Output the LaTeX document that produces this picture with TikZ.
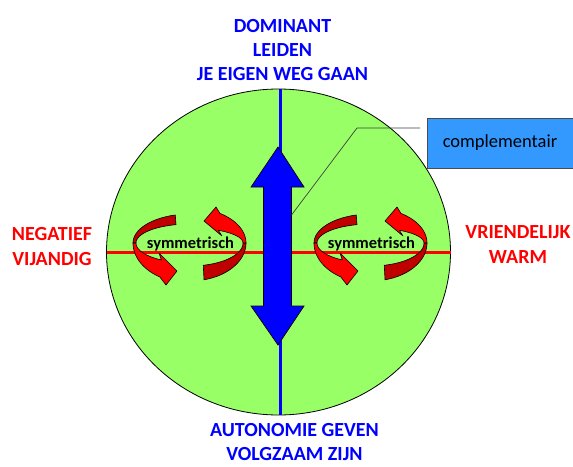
\documentclass[tikz,border=0pt]{standalone}
\usepackage{fontspec}
\setmainfont{Carlito}
\definecolor{cgreen}{RGB}{153,255,102}
\definecolor{cblue}{RGB}{0,0,255}
\definecolor{cred}{RGB}{255,0,0}
\definecolor{cdark}{RGB}{192,0,0}
\definecolor{cbox}{RGB}{51,153,255}
\tikzset{
  bigtext/.style={font=\fontsize{20}{24}\selectfont\bfseries, align=center, inner sep=0pt, anchor=north},
  bluetext/.style={bigtext, text=cblue},
  redtext/.style={bigtext, text=cred, font=\fontsize{20}{25}\selectfont\bfseries},
  symtext/.style={font=\fontsize{16.5}{18}\selectfont\bfseries, inner sep=0pt, anchor=base},
  ribbon/.style={draw=black, line width=0.6pt, line join=round},
  callbox/.style={draw=black!70, fill=cbox, minimum width=146pt, minimum height=50pt, inner sep=0pt, font=\fontsize{18.5}{20}\selectfont},
}
\begin{document}
\begin{tikzpicture}[x=1pt,y=-1pt]
\useasboundingbox (0,0) rectangle (573,466);
\fill[white] (0,0) rectangle (573,466);
% main ellipse
\draw[fill=cgreen, line width=0.8pt] (278.5,252) ellipse [x radius=172pt, y radius=163pt];
% axes
\draw[cred, line width=3pt] (106.5,252) -- (450.5,252);
\draw[cblue, line width=3pt] (280,89) -- (280,415);
% blue double arrow
\draw[fill=cblue, draw=black, line width=0.7pt, line join=miter]
  (278,147) -- (304,187) -- (291.5,187) -- (291.5,306) -- (304,306) -- (278,345)
  -- (251,306) -- (263.5,306) -- (263.5,187) -- (251,187) -- cycle;
% callout
\node[callbox] (box) at (500,143) {complementair};
\coordinate (lend) at (420,128);
\coordinate (bend) at (357,128);
\coordinate (cpt) at (291.5,215);
\draw[black!75, line width=0.7pt] (lend) -- (bend) -- (cpt);
% circular arrows
\foreach \dx in {0,181}{
\begin{scope}[xshift=\dx pt]
  % left arrow: dark back part
  \filldraw[ribbon, fill=cdark]
    plot[domain=255:180, samples=30, variable=\t] ({190+57*cos(\t)},{243+29*sin(\t)})
    -- plot[domain=180:255, samples=30, variable=\t] ({190+54*cos(\t)},{243+19*sin(\t)}) -- cycle;
  % left arrow: bright front part with head
  \filldraw[ribbon, fill=cred]
    plot[domain=180:122, samples=30, variable=\t] ({190+57*cos(\t)},{243+40*sin(\t)})
    -- (166,285) -- (177,271) -- (159,253)
    -- plot[domain=122:180, samples=30, variable=\t] ({190+54*cos(\t)},{243+20*sin(\t)}) -- cycle;
  % right arrow: dark bottom part
  \filldraw[ribbon, fill=cdark]
    plot[domain=0:75.5, samples=30, variable=\t] ({190+56*cos(\t)},{243+38*sin(\t)})
    -- plot[domain=75.5:0, samples=30, variable=\t] ({190+53*cos(\t)},{243+23*sin(\t)}) -- cycle;
  % right arrow: bright top part with head
  \filldraw[ribbon, fill=cred]
    plot[domain=360:302.4, samples=30, variable=\t] ({190+56*cos(\t)},{243+35*sin(\t)})
    -- (216,207) -- (204,221) -- (222,236)
    -- plot[domain=302.4:360, samples=30, variable=\t] ({190+53*cos(\t)},{243+15*sin(\t)}) -- cycle;
\end{scope}
}
\node[symtext] (symL) at (190.5,248) {symmetrisch};
\node[symtext] (symR) at (371.5,248) {symmetrisch};
% labels
\node[bluetext] (top) at (282.5,18.8) {DOMINANT\\LEIDEN\\JE EIGEN WEG GAAN};
\node[bluetext] (bottom) at (294.5,423.5) {AUTONOMIE GEVEN\\VOLGZAAM ZIJN};
\node[redtext] (left) at (52,226.8) {NEGATIEF\\VIJANDIG};
\node[redtext] (right) at (518,225.8) {VRIENDELIJK\\WARM};
\end{tikzpicture}
\end{document}
